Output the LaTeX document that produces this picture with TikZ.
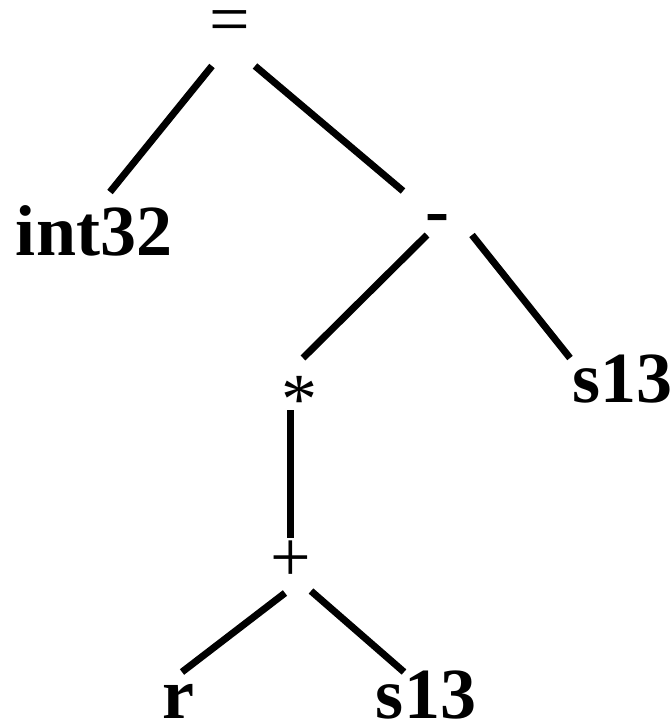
\documentclass[tikz,border=0pt]{standalone}
\usepackage{fontspec}
\setmainfont{Liberation Serif}
\begin{document}
\begin{tikzpicture}[x=1pt,y=-1pt,
  lbl/.style={anchor=base,inner sep=0pt,font=\fontsize{72}{80}\selectfont\bfseries},
  op/.style={anchor=base,inner sep=0pt,font=\fontsize{72}{80}\selectfont},
  edge/.style={line width=7pt}]
\useasboundingbox (0,0) rectangle (671,719);
% nodes
\node[op,text height=28pt,text depth=0pt]  (eq)  at (230,44)  {=};
\node[lbl] (int) at (94,255)  {int32};
\node[lbl] (minus) at (437,234) {-};
\node[op]  (mul) at (299,423) {*};
\node[lbl] (s1)  at (622,402) {s13};
\node[op]  (plus) at (291,581) {+};
\node[lbl] (r)   at (178,718) {r};
\node[lbl] (s2)  at (426,718) {s13};
% connector ends
\coordinate (eqL) at (212,66);
\coordinate (intT) at (110,192);
\coordinate (eqR) at (255,66);
\coordinate (minT) at (403,191);
\coordinate (minL) at (427,235);
\coordinate (mulT) at (303,358);
\coordinate (minR) at (472,235);
\coordinate (s1T) at (570,358);
\coordinate (mulB) at (290,410);
\coordinate (plusT) at (290,538);
\coordinate (plusL) at (285,593);
\coordinate (rT) at (182,672);
\coordinate (plusR) at (311,591);
\coordinate (s2T) at (404,672);
% connectors
\draw[edge] (eqL) -- (intT);
\draw[edge] (eqR) -- (minT);
\draw[edge] (minL) -- (mulT);
\draw[edge] (minR) -- (s1T);
\draw[edge] (mulB) -- (plusT);
\draw[edge] (plusL) -- (rT);
\draw[edge] (plusR) -- (s2T);
\end{tikzpicture}
\end{document}
